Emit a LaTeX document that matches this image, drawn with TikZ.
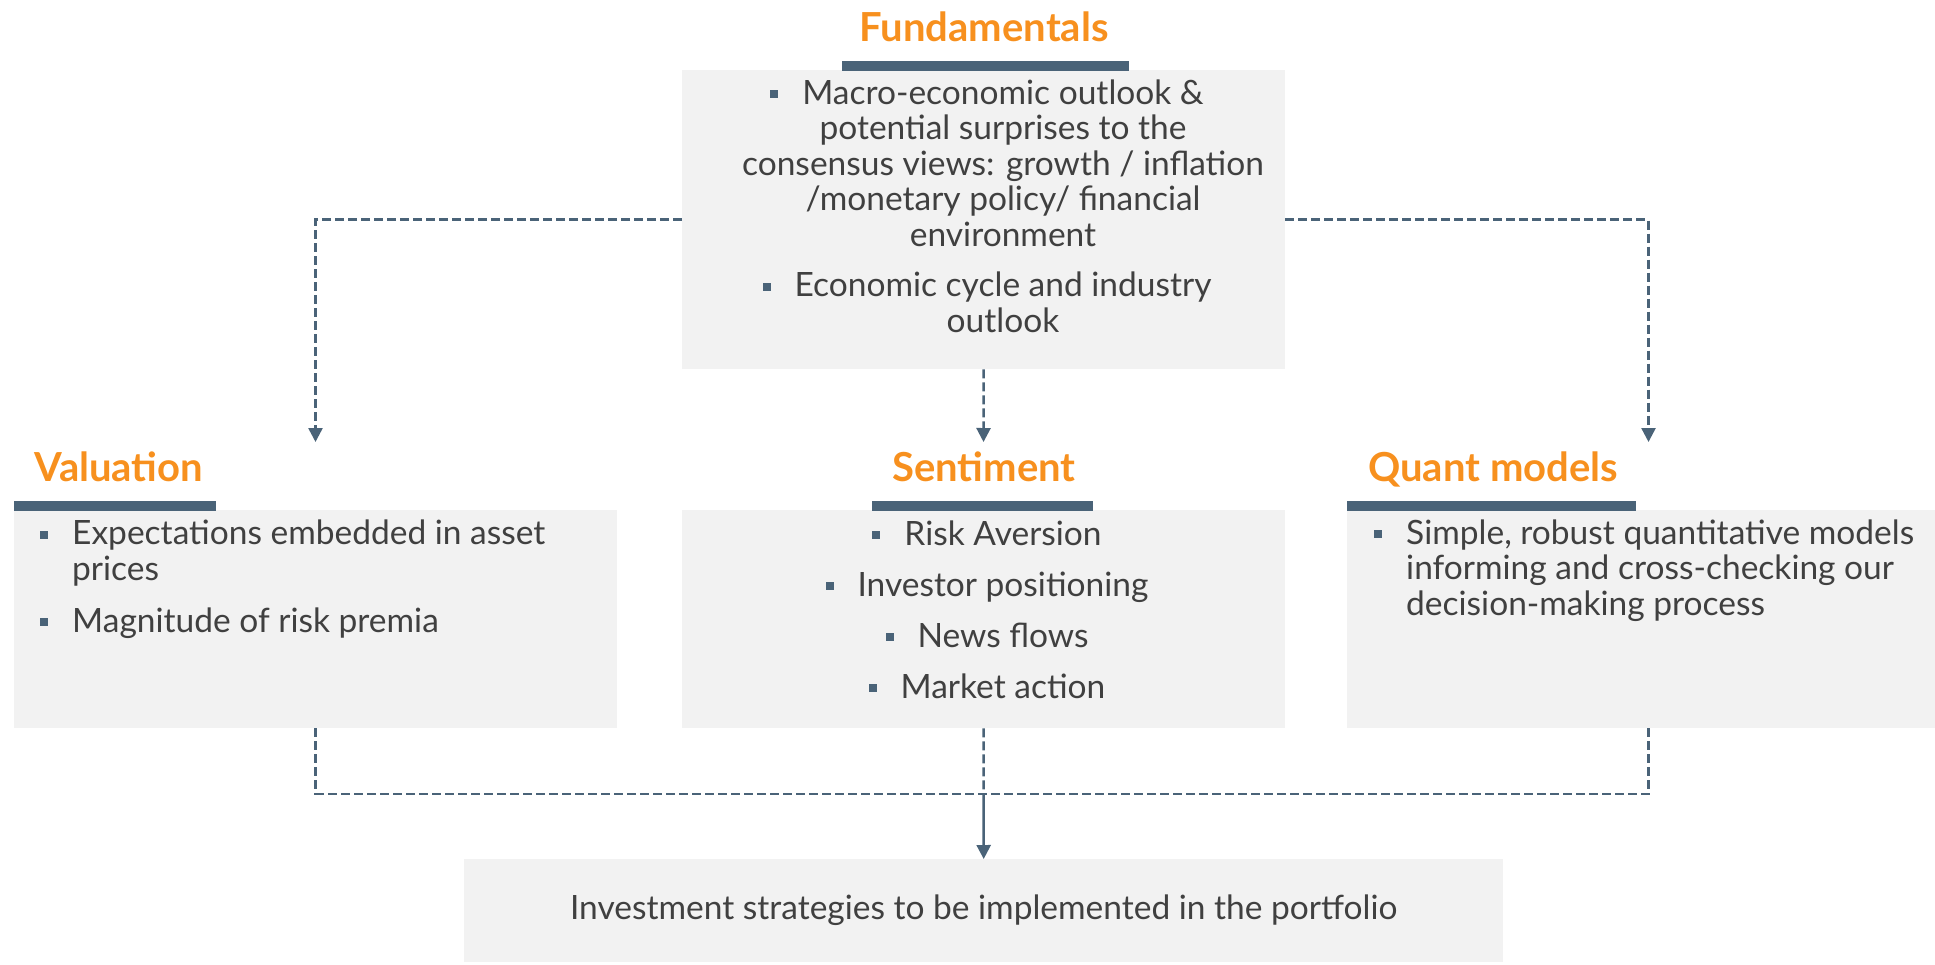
\documentclass[tikz,border=0pt]{standalone}
\usepackage{fontspec}
\setmainfont{Lato}
\usetikzlibrary{scopes,positioning,arrows.meta}

\definecolor{slate}{HTML}{4A6378}
\definecolor{panel}{HTML}{F2F2F2}
\definecolor{accent}{HTML}{F7901E}
\definecolor{ink}{HTML}{404040}
\newcommand{\sqbul}{\llap{\textcolor{slate}{\rule[6pt]{8pt}{8pt}}\hspace{24pt}}}

\begin{document}
\begin{tikzpicture}[x=1pt,y=-1pt,
    box/.style={rectangle,fill=panel,minimum width=603pt,minimum height=218pt,inner sep=0pt,anchor=north west},
    bar/.style={rectangle,fill=slate,minimum height=10pt,inner sep=0pt,anchor=south west},
    head/.style={text=accent,font=\fontsize{40}{44}\selectfont\bfseries,inner sep=0pt},
    item/.style={text=ink,font=\fontsize{33.5}{35.5}\selectfont,inner sep=0pt},
    link/.style={draw=slate,line width=2.5pt,dash pattern=on 9pt off 4pt},
    tip/.style={-{Triangle[width=14pt,length=14pt]}},
]
    \useasboundingbox (0,0) rectangle (1935,964);

    % Fundamentals
    \node[box,minimum height=299pt] (fund) at (682,70) {};
    \node[bar,minimum width=287pt] (fundbar) at (842,71) {};
    \node[head,anchor=base] (fundhead) at (984,41) {Fundamentals};
    % (base of a multi-line node = its last line)
    \node[item,align=center,anchor=base] (f1) at (1003,246)
        {\sqbul Macro-economic outlook \&\\potential surprises to the\\consensus views: growth / inflation\\/monetary policy/ financial\\environment};
    \node[item,align=center,anchor=base] (f2) at (1003,332)
        {\sqbul Economic cycle and industry\\outlook};

    % Valuation
    \node[box] (val) at (14,510) {};
    \node[bar,minimum width=202pt] (valbar) at (14,511) {};
    \node[head,anchor=base west] (valhead) at (34,481) {Valuation};
    \node[item,align=left,anchor=base west] (v1) at (72,580)
        {\sqbul Expectations embedded in asset\\prices};
    \node[item,anchor=base west] (v2) at (72,632) {\sqbul Magnitude of risk premia};

    % Sentiment
    \node[box] (sent) at (682,510) {};
    \node[bar,minimum width=221pt] (sentbar) at (872,511) {};
    \node[head,anchor=base] (senthead) at (984,481) {Sentiment};
    \foreach \txt [count=\i] in {Risk Aversion,Investor positioning,News flows,Market action}
        \node[item,anchor=base] (s\i) at (1003,{545+51*(\i-1)}) {\sqbul\txt};

    % Quant models
    \node[box] (quant) at (1347,510) {};
    \node[bar,minimum width=289pt] (quantbar) at (1347,511) {};
    \node[head,anchor=base west] (quanthead) at (1368,481) {Quant models};
    \node[item,align=left,anchor=base west] (q1) at (1406,615)
        {\sqbul Simple, robust quantitative models\\informing and cross-checking our\\decision-making process};

    % Output
    \node[box,minimum width=1039pt,minimum height=103pt,item] (out) at (464,859)
        {Investment strategies to be implemented in the portfolio};

    % Connectors
    \coordinate (vt) at (315.5,442);
    \coordinate (st) at (983.5,442);
    \coordinate (qt) at (1648.5,442);
    \coordinate (m) at (983.5,794);
    {[link,tip]
        \draw (fund.west) -| (vt);
        \draw (fund.south) -- (st);
        \draw (fund.east) -| (qt);
    }
    \draw[link] (val.south) |- (m) -| (quant.south);
    \draw[link] (sent.south) -- (m);
    \draw[draw=slate,line width=2.5pt,tip] (m) -- (out.north);
\end{tikzpicture}
\end{document}
